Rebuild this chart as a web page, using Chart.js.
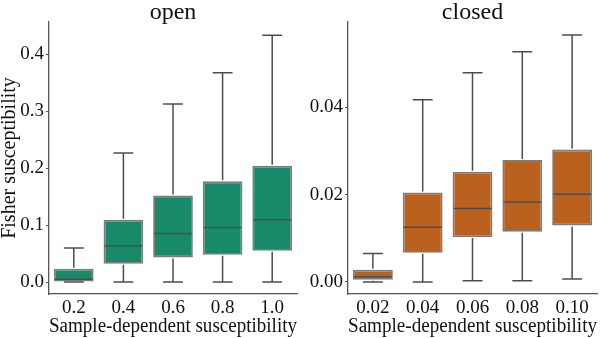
<!DOCTYPE html>
<html>
<head>
<meta charset="utf-8">
<script src="https://cdn.jsdelivr.net/npm/chart.js@4.4.1/dist/chart.umd.min.js"></script>
<style>
  html, body { margin: 0; padding: 0; background: #ffffff; }
  #wrap { position: relative; width: 602px; height: 338px; overflow: hidden; }
  canvas { position: absolute; top: 0; }
  #c1 { left: 0; }
  #c2 { left: 301px; }
</style>
</head>
<body>
<div id="wrap">
  <canvas id="c1" width="301" height="338"></canvas>
  <canvas id="c2" width="301" height="338"></canvas>
</div>
<script>
// ---- data ----
const categoriesOpen = ['0.2', '0.4', '0.6', '0.8', '1.0'];
const openMin    = [0.000, 0.000, 0.000, 0.000, 0.000];
const openQ1     = [0.001, 0.032, 0.043, 0.048, 0.055];
const openMedian = [0.005, 0.064, 0.0855, 0.096, 0.1095];
const openQ3     = [0.0235, 0.1095, 0.152, 0.177, 0.2045];
const openMax    = [0.060, 0.227, 0.313, 0.368, 0.4335];
const yTicksOpen = [0.0, 0.1, 0.2, 0.3, 0.4];

const categoriesClosed = ['0.02', '0.04', '0.06', '0.08', '0.10'];
const closedMin    = [0.0000, 0.0000, 0.0003, 0.0003, 0.0007];
const closedQ1     = [0.0005, 0.0067, 0.0103, 0.0115, 0.0129];
const closedMedian = [0.0012, 0.0125, 0.0168, 0.0183, 0.0201];
const closedQ3     = [0.0028, 0.0205, 0.0252, 0.0279, 0.0303];
const closedMax    = [0.0065, 0.0417, 0.0479, 0.0527, 0.0565];
const yTicksClosed = [0.00, 0.02, 0.04];

const panelTitles = ['open', 'closed'];
const xAxisTitle = 'Sample-dependent susceptibility';
const yAxisTitle = 'Fisher susceptibility';

// ---- styling ----
const FONT = "'Liberation Serif', 'Times New Roman', serif";
const TEXT = '#111111';
const AXIS = '#555555';
const WHISKER = '#4d4d4d';
const BOX_EDGE = '#7c7c7c';

const whiskerPlugin = {
  id: 'whiskers',
  afterDatasetsDraw(chart, args, opts) {
    const ctx = chart.ctx;
    const xs = chart.scales.x, ys = chart.scales.y;
    const meta = chart.getDatasetMeta(0);
    ctx.save();
    ctx.strokeStyle = WHISKER;
    ctx.lineWidth = 1.5;
    opts.min.forEach((mn, i) => {
      const x = xs.getPixelForValue(i);
      const bar = meta.data[i];
      const half = bar.width / 2;
      const cap = half / 2;
      const yMin = ys.getPixelForValue(mn);
      const yQ1 = ys.getPixelForValue(opts.q1[i]);
      const yQ3 = ys.getPixelForValue(opts.q3[i]);
      const yMax = ys.getPixelForValue(opts.max[i]);
      const yMed = ys.getPixelForValue(opts.median[i]);
      ctx.beginPath();
      ctx.moveTo(x, yQ3 - 1); ctx.lineTo(x, yMax);
      ctx.moveTo(x - cap, yMax); ctx.lineTo(x + cap, yMax);
      ctx.moveTo(x, yQ1 + 1); ctx.lineTo(x, yMin);
      ctx.moveTo(x - cap, yMin); ctx.lineTo(x + cap, yMin);
      ctx.moveTo(x - half + 1, yMed); ctx.lineTo(x + half - 1, yMed);
      ctx.stroke();
    });
    ctx.restore();
  }
};

// panel title centred over the plot area (as in the reference)
const panelTitlePlugin = {
  id: 'panelTitle',
  afterDraw(chart, args, opts) {
    const ctx = chart.ctx;
    const a = chart.chartArea;
    ctx.save();
    ctx.fillStyle = TEXT;
    ctx.font = '24px ' + FONT;
    ctx.textAlign = 'center';
    ctx.textBaseline = 'alphabetic';
    ctx.fillText(opts.text, (a.left + a.right) / 2, 19);
    ctx.restore();
  }
};

function makePanel(id, cats, mn, q1, med, q3, mx, ticks, yMin, yMax, decimals, color, title, showYTitle, yWidth, padRight) {
  return new Chart(document.getElementById(id), {
    type: 'bar',
    data: {
      labels: cats,
      datasets: [{
        data: q1.map((v, i) => [v, q3[i]]),
        backgroundColor: color,
        borderColor: BOX_EDGE,
        borderWidth: 1.8,
        borderSkipped: false,
        categoryPercentage: 0.8,
        barPercentage: 1.0
      }]
    },
    options: {
      responsive: false,
      animation: false,
      devicePixelRatio: 1,
      layout: { padding: { left: 0, right: padRight, top: 22, bottom: 0 } },
      plugins: {
        legend: { display: false },
        tooltip: { enabled: false },
        title: { display: false },
        panelTitle: { text: title },
        whiskers: { min: mn, q1: q1, median: med, q3: q3, max: mx }
      },
      scales: {
        x: {
          type: 'category',
          offset: true,
          grid: { display: false, drawTicks: false },
          border: { display: true, color: AXIS, width: 1.3 },
          ticks: { color: TEXT, font: { family: FONT, size: 19, lineHeight: 1.0 }, padding: 5, maxRotation: 0, autoSkip: false },
          title: {
            display: true, text: xAxisTitle, color: TEXT,
            font: { family: FONT, size: 20, lineHeight: 1.0 },
            padding: { top: -6, bottom: 1 }
          }
        },
        y: {
          min: yMin, max: yMax,
          grid: { display: true, drawOnChartArea: false, drawTicks: true, tickLength: 3, color: AXIS },
          border: { display: true, color: AXIS, width: 1.3 },
          ticks: {
            color: TEXT, font: { family: FONT, size: 19 }, padding: 2,
            callback: (v) => Number(v).toFixed(decimals)
          },
          afterBuildTicks(scale) { scale.ticks = ticks.map(v => ({ value: v })); },
          title: {
            display: showYTitle, text: yAxisTitle, color: TEXT,
            font: { family: FONT, size: 20, lineHeight: 1.0 },
            padding: { top: 0, bottom: 0 }
          },
          afterFit(scale) { scale.width = yWidth; }
        }
      }
    },
    plugins: [whiskerPlugin, panelTitlePlugin]
  });
}

makePanel('c1', categoriesOpen, openMin, openQ1, openMedian, openQ3, openMax,
  yTicksOpen, -0.021, 0.457, 1, '#188a6a', panelTitles[0], true, 49, 4);
makePanel('c2', categoriesClosed, closedMin, closedQ1, closedMedian, closedQ3, closedMax,
  yTicksClosed, -0.00275, 0.0595, 2, '#ba611d', panelTitles[1], false, 47, 5);
</script>
</body>
</html>
